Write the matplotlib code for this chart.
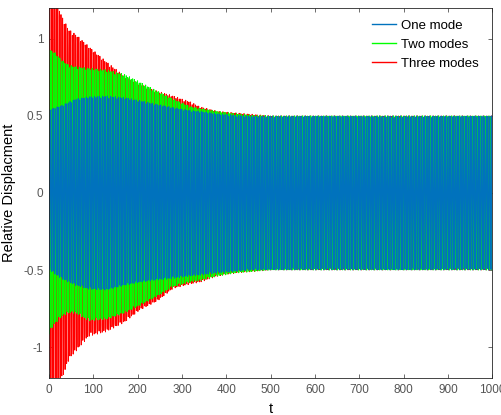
import numpy as np
import matplotlib
matplotlib.use("Agg")
import matplotlib.pyplot as plt

plt.rcParams['font.family'] = ['Liberation Sans', 'DejaVu Sans']

# envelope key points of each response (time, upper, lower)
t_key = [0, 10, 20, 30, 45, 60, 90, 130, 170, 205, 245, 280, 320, 340, 380, 420, 460, 500, 1000]
one_up = [0.54, 0.55, 0.56, 0.57, 0.59, 0.61, 0.625, 0.63, 0.62, 0.60, 0.575, 0.555, 0.535, 0.53, 0.515, 0.505, 0.50, 0.50, 0.50]
one_lo = [-0.50, -0.52, -0.54, -0.56, -0.58, -0.60, -0.625, -0.63, -0.60, -0.58, -0.565, -0.555, -0.54, -0.535, -0.52, -0.51, -0.50, -0.50, -0.50]
two_up = [0.93, 0.92, 0.89, 0.86, 0.83, 0.82, 0.81, 0.80, 0.77, 0.72, 0.66, 0.61, 0.56, 0.55, 0.53, 0.515, 0.505, 0.50, 0.50]
two_lo = [-0.92, -0.86, -0.83, -0.80, -0.78, -0.78, -0.83, -0.82, -0.78, -0.73, -0.67, -0.61, -0.58, -0.57, -0.54, -0.52, -0.51, -0.50, -0.50]
three_up = [1.35, 1.30, 1.22, 1.14, 1.06, 1.03, 0.95, 0.85, 0.76, 0.71, 0.66, 0.63, 0.59, 0.56, 0.53, 0.52, 0.51, 0.50, 0.50]
three_lo = [-1.35, -1.32, -1.27, -1.20, -1.08, -1.03, -0.93, -0.90, -0.84, -0.76, -0.70, -0.62, -0.59, -0.58, -0.54, -0.52, -0.51, -0.50, -0.50]

period = 3.652
phases = [0.0, 1.9, 3.7]

t = np.arange(0, 1000.01, 0.25)


def response(up, lo, phase):
    u = np.interp(t, t_key, up)
    l = np.interp(t, t_key, lo)
    return (u + l) / 2 + (u - l) / 2 * np.cos(2 * np.pi * t / period + phase)


y1 = response(one_up, one_lo, phases[0])
y2 = response(two_up, two_lo, phases[1])
y3 = response(three_up, three_lo, phases[2])

fig = plt.figure(figsize=(5.01, 4.15), dpi=100)
ax = fig.add_axes([0.0978, 0.0892, 0.8852, 0.8918])

l3, = ax.plot(t, y3, color='#ff0000', lw=0.65)
l2, = ax.plot(t, y2, color='#00ff00', lw=0.65)
l1, = ax.plot(t, y1, color='#0072bd', lw=0.6)

ax.set_xlim(0, 1000)
ax.set_ylim(-1.2, 1.2)
ax.set_xticks(np.arange(0, 1001, 100))
ax.set_yticks([-1, -0.5, 0, 0.5, 1])
ax.set_yticklabels(['-1', '-0.5', '0', '0.5', '1'])
ax.tick_params(direction='in', top=True, right=True, length=3, width=0.6,
               labelsize=8.5, colors='#555555', pad=4)
for s in ax.spines.values():
    s.set_linewidth(0.6)
    s.set_color('#262626')

ax.set_xlabel('t', fontsize=10.5, labelpad=5)
ax.set_ylabel('Relative Displacment', fontsize=10.5, labelpad=5)

leg = ax.legend([l1, l2, l3], ['One mode', 'Two modes', 'Three modes'],
                loc='upper right', frameon=False, fontsize=9.5,
                handlelength=1.8, handletextpad=0.35, labelspacing=0.5,
                bbox_to_anchor=(0.995, 1.0))
for h in leg.legend_handles:
    h.set_linewidth(1.0)

fig.savefig('out.png', dpi=100)
